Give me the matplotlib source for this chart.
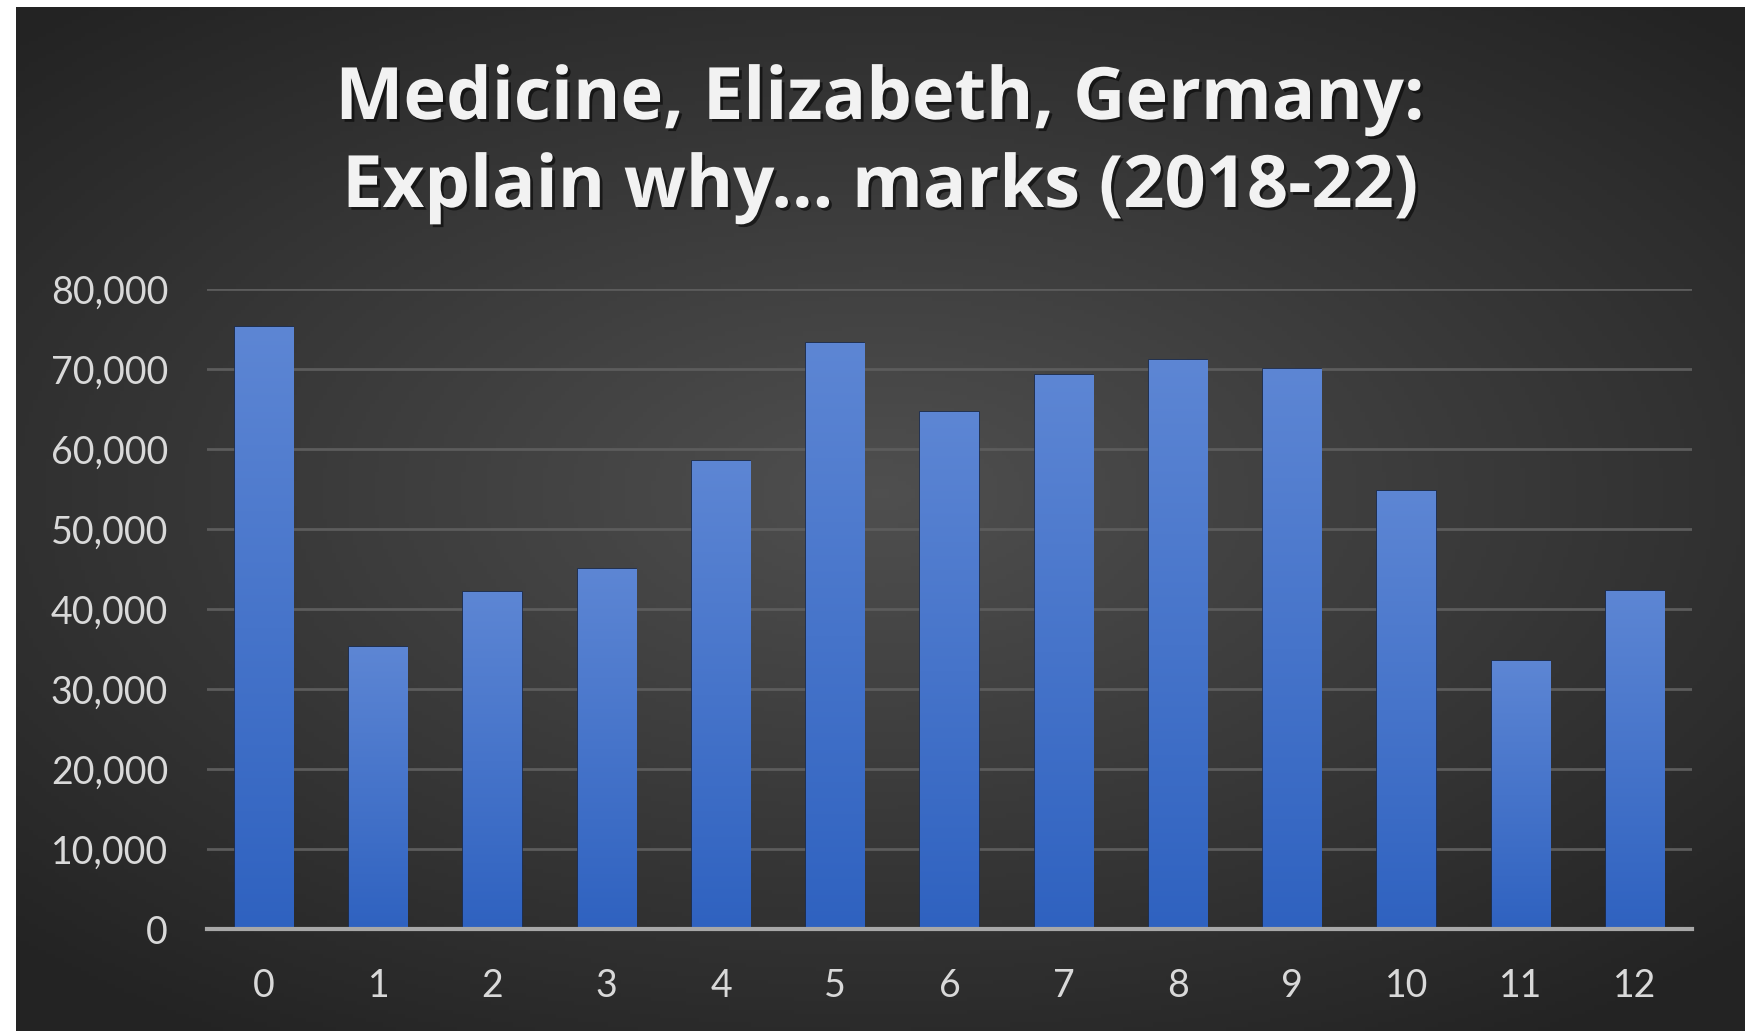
import numpy as np
import matplotlib.pyplot as plt
import matplotlib.patheffects as pe
from matplotlib.colors import LinearSegmentedColormap
from matplotlib.ticker import FuncFormatter

plt.rcParams['font.family'] = ['Lato', 'DejaVu Sans']

# marks awarded per score band
marks = [str(i) for i in range(13)]
counts = [75200, 35200, 42100, 45000, 58500, 73200, 64600,
          69200, 71100, 70000, 54700, 33500, 42300]
title_lines = ['Medicine, Elizabeth, Germany:', 'Explain why... marks (2018-22)']
y_ticks = list(range(0, 80001, 10000))

W, H = 1749, 1031
fig = plt.figure(figsize=(W / 100, H / 100), dpi=100)
fig.patch.set_facecolor('white')

# dark radial backdrop inside the thin white frame
bg = fig.add_axes([16 / W, 0, (1745 - 16) / W, (H - 7) / H])
bg.set_axis_off()
gx, gy = np.meshgrid(np.linspace(-1, 1, 400), np.linspace(-1, 1, 240))
r = np.sqrt((gx * 0.95) ** 2 + ((gy + 0.05) * 1.05) ** 2)
shade = np.clip(1 - r / 1.35, 0, 1)
bg_cmap = LinearSegmentedColormap.from_list('bg', ['#232323', '#4f4f4f'])
bg.imshow(shade, cmap=bg_cmap, aspect='auto', extent=[0, 1, 0, 1])
bg.set_xlim(0, 1)
bg.set_ylim(0, 1)

ax = fig.add_axes([207 / W, 1 - 929 / H, (1692 - 207) / W, (929 - 289) / H])
ax.patch.set_alpha(0)

x = np.arange(len(marks))
bars = ax.bar(x, counts, width=0.51, color='#4472c4',
              edgecolor='#1c2f55', linewidth=1.2, zorder=3)

# vertical blue gradient clipped to each bar
bar_cmap = LinearSegmentedColormap.from_list('bar', ['#2f62c0', '#5d86d4'])
grad = np.linspace(0, 1, 256).reshape(-1, 1)
for b in bars:
    x0, y0 = b.get_x(), b.get_y()
    im = ax.imshow(grad, cmap=bar_cmap, aspect='auto', origin='lower',
                   extent=[x0, x0 + b.get_width(), y0, y0 + b.get_height()],
                   zorder=3.5)
    im.set_clip_path(b)

ax.set_xlim(-0.5, len(marks) - 0.5)
ax.set_ylim(0, 80000)
ax.set_yticks(y_ticks)
ax.yaxis.set_major_formatter(FuncFormatter(lambda v, p: f'{int(v):,}'))
ax.set_xticks(x)
ax.set_xticklabels(marks)

ax.grid(axis='y', color='#5c5c5c', linewidth=2, zorder=0)
for s in ['top', 'right', 'left']:
    ax.spines[s].set_visible(False)
ax.spines['bottom'].set_color('#a8a8a8')
ax.spines['bottom'].set_linewidth(3)
ax.spines['bottom'].set_zorder(4)
ax.tick_params(axis='both', length=0, labelsize=27, colors='#d9d9d9')
ax.tick_params(axis='y', pad=28)
ax.tick_params(axis='x', pad=28)

shadow = [pe.withSimplePatchShadow(offset=(2, -2), shadow_rgbFace='black', alpha=0.55)]
for line, yc in zip(title_lines, [100, 188]):
    fig.text(880 / W, 1 - yc / H, line, ha='center', va='center',
             fontsize=52, fontweight='bold', color='#f2f2f2',
             family=['Open Sans', 'DejaVu Sans'], path_effects=shadow)

fig.savefig('out.png', dpi=100, facecolor='white')
